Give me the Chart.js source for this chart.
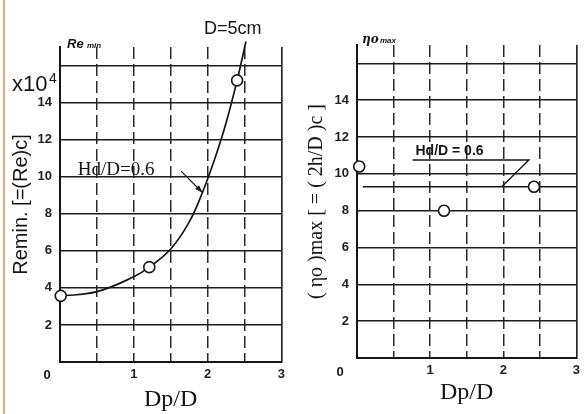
<!DOCTYPE html>
<html lang="ja">
<head>
<meta charset="UTF-8">
<title>Remin / (ηo)max - Dp/D</title>
<script src="https://cdn.jsdelivr.net/npm/chart.js"></script>
<style>
  body { margin: 0; background: #fff; }
  #wrap { position: relative; width: 585px; height: 414px; overflow: hidden; }
  .edge { position: absolute; left: 3px; top: 0; width: 2px; height: 414px; background: #f2a27c; }
  #leftChart { position: absolute; left: 0; top: 0; }
  #rightChart { position: absolute; left: 290px; top: 0; }
</style>
</head>
<body>
<div id="wrap">
  <div class="edge"></div>
  <canvas id="leftChart" width="290" height="414"></canvas>
  <canvas id="rightChart" width="295" height="414"></canvas>
</div>
<script>
// Remin curve (x10^4) against Dp/D, Hd/D = 0.6, D = 5cm
const curveDpD   = [0, 0.5, 1.0, 1.21, 1.5, 1.75, 1.93, 2.1, 2.25, 2.4, 2.52];
const curveRemin = [3.55, 3.8, 4.6, 5.12, 6.1, 7.55, 9.15, 11.0, 12.9, 15.2, 17.3];
// measured points
const reminDpD = [0.01, 1.21, 2.4];
const reminVal = [3.57, 5.12, 15.2];
const etaDpD   = [0.03, 1.19, 2.42];
const etaVal   = [10.4, 8.0, 9.3];
// (ηo)max level line
const etaLineDpD = [0.08, 3.0];
const etaLineVal = [9.3, 9.3];
// axes
const yTickValues = [0, 2, 4, 6, 8, 10, 12, 14, 16];
const yTickLabels = ['', '2', '4', '6', '8', '10', '12', '14', ''];
const xLabels = ['', '1', '2', '3'];

const INK = '#161616';
const NONE = 'rgba(0,0,0,0)';
const tickFont = { family: 'Liberation Sans', size: 13, weight: 'bold' };

const pts = (xs, ys) => xs.map((x, i) => ({ x: x, y: ys[i] }));

function xScale(height, titlePad) {
  return {
    type: 'linear', min: 0, max: 3,
    afterFit: s => { s.height = height; },
    ticks: {
      stepSize: 0.5, autoSkip: false, maxRotation: 0, padding: 5, color: '#222', font: tickFont,
      callback: v => Number.isInteger(v) ? xLabels[v] : ''
    },
    grid: {
      drawTicks: false,
      color: c => (c.tick && c.tick.value === 0) ? NONE : '#2a2a2a',
      lineWidth: c => (c.tick && c.tick.value === 3) ? 1.7 : 1.5
    },
    border: {
      color: INK, width: 2,
      dash: c => (c.tick && c.tick.value > 0 && c.tick.value < 3) ? [12, 5] : []
    },
    title: {
      display: true, text: 'Dp/D', color: INK,
      font: { family: 'Liberation Serif', size: 24 }, padding: { top: 0, bottom: titlePad }
    }
  };
}

function yScale(width, title, titleFont, titlePad) {
  return {
    type: 'linear', min: 0, max: 17,
    afterFit: s => { s.width = width; },
    afterBuildTicks: s => { s.ticks = yTickValues.map(v => ({ value: v })); },
    ticks: {
      padding: 8, color: '#222', font: tickFont,
      callback: v => yTickLabels[yTickValues.indexOf(v)]
    },
    grid: {
      drawTicks: false,
      color: c => (c.tick && c.tick.value === 0) ? NONE : '#1c1c1c',
      lineWidth: 1.6
    },
    border: { color: INK, width: 2 },
    title: {
      display: true, text: title, color: INK, font: titleFont,
      padding: { top: titlePad, bottom: 0 }
    }
  };
}

const markerStyle = {
  showLine: false, pointRadius: 5.5, pointHoverRadius: 5.5,
  pointBackgroundColor: '#fff', pointBorderColor: INK, pointBorderWidth: 1.6, clip: false
};

function text(ctx, str, x, y, font, align) {
  ctx.font = font;
  ctx.textAlign = align || 'left';
  ctx.textBaseline = 'alphabetic';
  ctx.fillStyle = INK;
  ctx.fillText(str, x, y);
}

// labels and arrow on the Remin chart
const leftNotes = {
  id: 'leftNotes',
  afterDatasetsDraw(chart) {
    const { ctx, chartArea: a, scales: { x, y } } = chart;
    ctx.save();
    text(ctx, '0', a.left - 13, a.bottom + 17, 'bold 13px Liberation Sans', 'center');
    text(ctx, 'x10', a.left - 48, y.getPixelForValue(14.6), '22px Liberation Sans');
    text(ctx, '4', a.left - 11, y.getPixelForValue(15.05), '14px Liberation Sans');
    text(ctx, 'Re', a.left + 7, a.top + 1, 'italic bold 13px Liberation Sans');
    text(ctx, 'min', a.left + 27, a.top + 1, 'italic bold 8px Liberation Sans');
    text(ctx, 'D=5cm', x.getPixelForValue(1.95), y.getPixelForValue(17) - 13, '18px Liberation Sans');
    text(ctx, 'Hd/D=0.6', x.getPixelForValue(0.24), y.getPixelForValue(10.1), '19px Liberation Serif');
    // arrow to the curve
    const x1 = x.getPixelForValue(1.64), y1 = y.getPixelForValue(10.3);
    const x2 = x.getPixelForValue(1.93), y2 = y.getPixelForValue(9.15);
    ctx.strokeStyle = INK;
    ctx.lineWidth = 1.2;
    ctx.beginPath(); ctx.moveTo(x1, y1); ctx.lineTo(x2, y2); ctx.stroke();
    const ang = Math.atan2(y2 - y1, x2 - x1);
    ctx.beginPath();
    ctx.moveTo(x2, y2);
    ctx.lineTo(x2 - 8 * Math.cos(ang - 0.35), y2 - 8 * Math.sin(ang - 0.35));
    ctx.lineTo(x2 - 8 * Math.cos(ang + 0.35), y2 - 8 * Math.sin(ang + 0.35));
    ctx.closePath();
    ctx.fillStyle = INK;
    ctx.fill();
    ctx.restore();
  }
};

// labels on the (ηo)max chart
const rightNotes = {
  id: 'rightNotes',
  afterDatasetsDraw(chart) {
    const { ctx, chartArea: a, scales: { x, y } } = chart;
    ctx.save();
    text(ctx, '0', a.left - 17, a.bottom + 18, 'bold 13px Liberation Sans', 'center');
    text(ctx, 'ηo', a.left + 5, a.top - 2, 'italic bold 12px DejaVu Serif');
    text(ctx, 'max', a.left + 23, a.top - 2, 'italic bold 8px Liberation Sans');
    text(ctx, 'Hd/D = 0.6', x.getPixelForValue(0.8), y.getPixelForValue(11.0), 'bold 14px Liberation Sans');
    ctx.strokeStyle = INK;
    ctx.lineWidth = 1.4;
    ctx.beginPath();
    ctx.moveTo(x.getPixelForValue(0.76), y.getPixelForValue(10.75));
    ctx.lineTo(x.getPixelForValue(2.35), y.getPixelForValue(10.75));
    ctx.lineTo(x.getPixelForValue(1.98), y.getPixelForValue(9.3));
    ctx.stroke();
    ctx.restore();
  }
};

const common = {
  responsive: false,
  animation: false,
  plugins: { legend: { display: false }, tooltip: { enabled: false } }
};

new Chart(document.getElementById('leftChart'), {
  type: 'scatter',
  data: {
    datasets: [
      Object.assign({ data: pts(reminDpD, reminVal) }, markerStyle),
      {
        data: pts(curveDpD, curveRemin), showLine: true, pointRadius: 0,
        borderColor: INK, borderWidth: 1.7, tension: 0.4, clip: false
      }
    ]
  },
  options: Object.assign({}, common, {
    layout: { padding: { top: 47, right: 7, left: 0, bottom: 0 } },
    scales: {
      x: xScale(52, 0),
      y: yScale(60, 'Remin. [=(Re)c]', { family: 'Liberation Sans', size: 20 }, 9)
    }
  }),
  plugins: [leftNotes]
});

new Chart(document.getElementById('rightChart'), {
  type: 'scatter',
  data: {
    datasets: [
      Object.assign({ data: pts(etaDpD, etaVal) }, markerStyle),
      {
        data: pts(etaLineDpD, etaLineVal), showLine: true, pointRadius: 0,
        borderColor: INK, borderWidth: 1.6
      }
    ]
  },
  options: Object.assign({}, common, {
    layout: { padding: { top: 45, right: 7, left: 0, bottom: 0 } },
    scales: {
      x: xScale(56, 7),
      y: yScale(67, '( ηo )max [ = ( 2h/D )c ]', { family: 'Liberation Serif', size: 20 }, 15)
    }
  }),
  plugins: [rightNotes]
});
</script>
</body>
</html>
